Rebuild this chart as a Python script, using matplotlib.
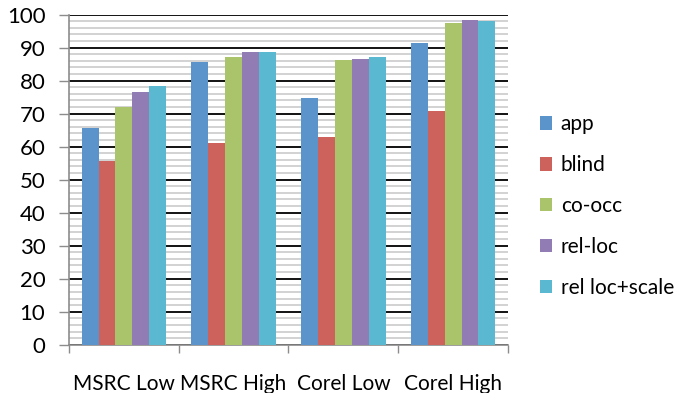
import matplotlib.pyplot as plt
from matplotlib.ticker import MultipleLocator
import numpy as np

plt.rcParams['font.family'] = ['Lato', 'DejaVu Sans']

categories = ['MSRC Low', 'MSRC High', 'Corel Low', 'Corel High']
series = ['app', 'blind', 'co-occ', 'rel-loc', 'rel loc+scale']
app = [65.6, 85.7, 74.7, 91.3]
blind = [55.6, 61.2, 62.8, 70.8]
co_occ = [72.0, 87.1, 86.2, 97.4]
rel_loc = [76.7, 88.7, 86.7, 98.3]
rel_loc_scale = [78.4, 88.7, 87.2, 98.2]
colors = ['#5b93cb', '#cd625d', '#a9c46b', '#927cb4', '#5ab8d1']

values = [app, blind, co_occ, rel_loc, rel_loc_scale]

fig = plt.figure(figsize=(6.89, 3.93), dpi=100)
ax = fig.add_axes([0.1001, 0.1229, 0.6372, 0.8397])

x = np.arange(len(categories))
w = 1 / 6.5
for i, (name, vals) in enumerate(zip(series, values)):
    ax.bar(x + (i - 2) * w, vals, width=w, color=colors[i], label=name,
           zorder=3, linewidth=0)

ax.set_xlim(-0.5, 3.5)
ax.set_ylim(0, 100)
ax.yaxis.set_major_locator(MultipleLocator(10))
ax.yaxis.set_minor_locator(MultipleLocator(2))
ax.grid(which='minor', axis='y', color='#cfcfcf', linewidth=1.3, zorder=0)
ax.grid(which='major', axis='y', color='black', linewidth=1.3, zorder=1)

ax.set_xticks([-0.5, 0.5, 1.5, 2.5, 3.5])
ax.set_xticklabels([])
ax.set_xticks(x, minor=True)
ax.set_xticklabels(categories, minor=True)
ax.tick_params(axis='x', which='major', length=6, color='#8c8c8c', width=1)
ax.tick_params(axis='x', which='minor', length=0, pad=21, labelsize=15)
ax.tick_params(axis='y', which='major', length=7, color='#8c8c8c', width=1,
               labelsize=16, pad=10)
ax.tick_params(axis='y', which='minor', length=0)

for s in ['top', 'right']:
    ax.spines[s].set_visible(False)
for s in ['left', 'bottom']:
    ax.spines[s].set_color('#8c8c8c')
    ax.spines[s].set_linewidth(1.2)

ax.legend(loc='center left', bbox_to_anchor=(1.03, 0.42), frameon=False,
          fontsize=15, handlelength=0.6, handleheight=0.6, handletextpad=0.4,
          labelspacing=1.0)

fig.savefig('out.png', dpi=100)
